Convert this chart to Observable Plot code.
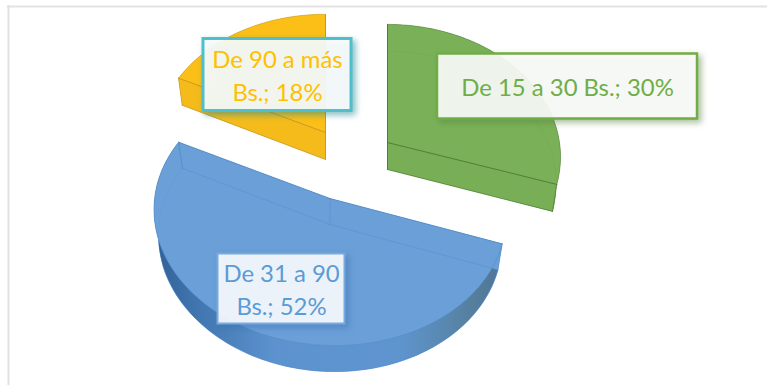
<!DOCTYPE html>
<html lang="es">
<head>
<meta charset="utf-8">
<title>Gasto por rango</title>
<script src="https://cdn.jsdelivr.net/npm/d3@7"></script>
<script src="https://cdn.jsdelivr.net/npm/@observablehq/plot@0.6"></script>
<style>
  html, body { margin: 0; padding: 0; background: #fff; }
  svg { display: block; }
</style>
</head>
<body>
<div id="chart"></div>
<script>
// Chart values
const categories = ["De 15 a 30 Bs.", "De 31 a 90 Bs.", "De 90 a más Bs."];
const shares = [30, 52, 18];

// Wedge colours: top face, side wall, edge line, faint inner line
const topFills = ["#7ab158", "#6a9fd8", "#fbbf17"];
const wallFills = ["#78ae55", "url(#blueWall)", "#f5bb1b"];
const edgeStrokes = ["#4d7a33", "#4f88c6", "#c2962a"];
const innerStrokes = ["#6c9f4c", "#5c93cf", "#e2ab1c"];

// Exploded apex of each wedge on the top face
const apexX = [387, 329.5, 325];
const apexY = [142, 198, 132];

// Perspective of the tilted disc
const radiiX = [172, 175, 170];
const shears = [0, 0.02, 0.007];
const radiusY = 131, persp = 0.109;
const depths = [27, 26, 27];
const bottomScale = 0.975;

// Label callouts
const labelLines = [
  [`${categories[0]}; ${shares[0]}%`],
  ["De 31 a 90", `Bs.; ${shares[1]}%`],
  ["De 90 a más", `Bs.; ${shares[2]}%`]
];
const labelBoxes = [
  {x1: 437, x2: 697, y1: 53.5, y2: 118.5, stroke: "#70ad47", width: 2.5, shadow: "rgba(90,130,60,.55)", text: "#70ad47", fill: "rgba(255,255,255,.89)"},
  {x1: 217.5, x2: 344.5, y1: 253.5, y2: 323.5, stroke: "#79a9de", width: 2, shadow: "rgba(50,100,160,.45)", text: "#5b9bd5", fill: "rgba(255,255,255,.89)"},
  {x1: 203, x2: 351, y1: 38.5, y2: 110.5, stroke: "#4fc0cb", width: 3, shadow: "rgba(40,140,150,.6)", text: "#ffc000", fill: "rgba(255,255,255,.89)"}
];

function project(i, angle, level) {
  const u = Math.sin(angle), v = Math.cos(angle), d = 1 + persp * v;
  const sx = level ? bottomScale : 1;
  const px = radiiX[i] * u / d;
  return {
    x: apexX[i] + px * sx,
    y: apexY[i] + (level ? depths[i] : 0) - radiusY * v / d + shears[i] * px
  };
}
const apex = (i, level) => ({x: apexX[i], y: apexY[i] + (level ? depths[i] : 0)});
function arcPoints(i, a0, a1, level) {
  const n = Math.max(8, Math.ceil(Math.abs(a1 - a0) * 40));
  return d3.range(n + 1).map((k) => project(i, a0 + (a1 - a0) * k / n, level));
}

const arcs = d3.pie().sort(null).startAngle(0).endAngle(2 * Math.PI)(shares);

const marks = [
  // Panel frame along the top and left
  Plot.ruleY([6], {x1: 7, x2: 767, stroke: "#e2e2e2", strokeWidth: 2}),
  Plot.ruleX([8], {y1: 5, y2: 385, stroke: "#e2e2e2", strokeWidth: 2})
];
const line = (pts, stroke, width, opacity = 1) =>
  Plot.line(pts, {x: "x", y: "y", stroke, strokeWidth: width, strokeOpacity: opacity});
const face = (pts, fill) =>
  Plot.line([...pts, pts[0]], {x: "x", y: "y", fill, stroke: "none"});

// Back to front: yellow, green, blue
[2, 0, 1].forEach((i) => {
  const {startAngle: a0, endAngle: a1} = arcs[i];
  const topRim = arcPoints(i, a0, a1, 0);
  const botRim = arcPoints(i, a0, a1, 1);
  const topEnd = topRim[topRim.length - 1], botEnd = botRim[botRim.length - 1];
  const topP = [apex(i, 0), ...topRim];
  const botP = [apex(i, 1), ...botRim];

  marks.push(face(botP, topFills[i]));
  // Outer wall between the two rims
  marks.push(face([...topRim, ...botRim.slice().reverse()], wallFills[i]));
  // Cut faces of the wedge
  [[topRim[0], botRim[0]], [topEnd, botEnd]].forEach(([t, b]) => {
    marks.push(face([apex(i, 0), t, b, apex(i, 1)], i === 1 ? topFills[i] : wallFills[i]));
  });
  marks.push(face(topP, topFills[i]));

  // Faint edges of the underside showing through
  marks.push(line([botEnd, apex(i, 1), botRim[0]], i === 1 ? innerStrokes[i] : edgeStrokes[i], 0.8, 0.9));
  marks.push(line(botRim, innerStrokes[i], 0.7, 0.35));
  marks.push(line([apex(i, 0), apex(i, 1)], i === 1 ? innerStrokes[i] : edgeStrokes[i], 0.8, 0.9));
  marks.push(line([topRim[0], botRim[0]], i === 1 ? innerStrokes[i] : edgeStrokes[i], 0.8, 0.8));
  marks.push(line([topEnd, botEnd], edgeStrokes[i], 0.9, 0.8));

  // Crisp outline of the top face
  marks.push(line(topRim, edgeStrokes[i], 0.7, 0.7));
  marks.push(line([topEnd, apex(i, 0), topRim[0]], edgeStrokes[i], i === 1 ? 0.9 : 1, 0.9));

  // Only the front stretch of the lower rim reads as a hard edge
  const front = botRim.filter((p) => p.y > apex(i, 1).y + 40);
  if (front.length) marks.push(line(front, edgeStrokes[i], 0.7, 0.7));
});

// Callouts on top of the wedges
[2, 0, 1].forEach((i) => {
  const b = labelBoxes[i];
  marks.push(Plot.rect([b], {
    x1: "x1", x2: "x2", y1: "y1", y2: "y2",
    fill: b.fill, stroke: b.stroke, strokeWidth: b.width,
    imageFilter: `drop-shadow(3px 3px 3px ${b.shadow})`
  }));
  const lines = labelLines[i];
  const cy = (b.y1 + b.y2) / 2 + 2, step = 32.5;
  marks.push(Plot.text(lines, {
    x: () => (b.x1 + b.x2) / 2,
    y: (d, k) => cy + (k - (lines.length - 1) / 2) * step,
    text: (d) => d,
    fill: b.text,
    fontSize: 23.9,
    fontFamily: "Lato",
    textAnchor: "middle",
    lineAnchor: "middle"
  }));
});

const chart = Plot.plot({
  width: 767,
  height: 385,
  margin: 0,
  style: {background: "#fff"},
  x: {domain: [0, 767], range: [0, 767], axis: null},
  y: {domain: [0, 385], range: [0, 385], axis: null},
  marks: [
    // Shading of the rounded wall, dark at both extremes
    () => {
      const ns = "http://www.w3.org/2000/svg";
      const defs = document.createElementNS(ns, "defs");
      const g = document.createElementNS(ns, "linearGradient");
      g.setAttribute("id", "blueWall");
      g.setAttribute("gradientUnits", "userSpaceOnUse");
      g.setAttribute("x1", 150); g.setAttribute("x2", 505);
      g.setAttribute("y1", 0); g.setAttribute("y2", 0);
      [[0, "#2f5f93"], [0.12, "#3f74ad"], [0.35, "#5c93cf"], [0.7, "#5f95cf"], [0.9, "#55809f"], [1, "#4f7397"]].forEach(([o, c]) => {
        const s = document.createElementNS(ns, "stop");
        s.setAttribute("offset", o); s.setAttribute("stop-color", c);
        g.appendChild(s);
      });
      defs.appendChild(g);
      return defs;
    },
    ...marks
  ]
});
document.getElementById("chart").appendChild(chart);
</script>
</body>
</html>
